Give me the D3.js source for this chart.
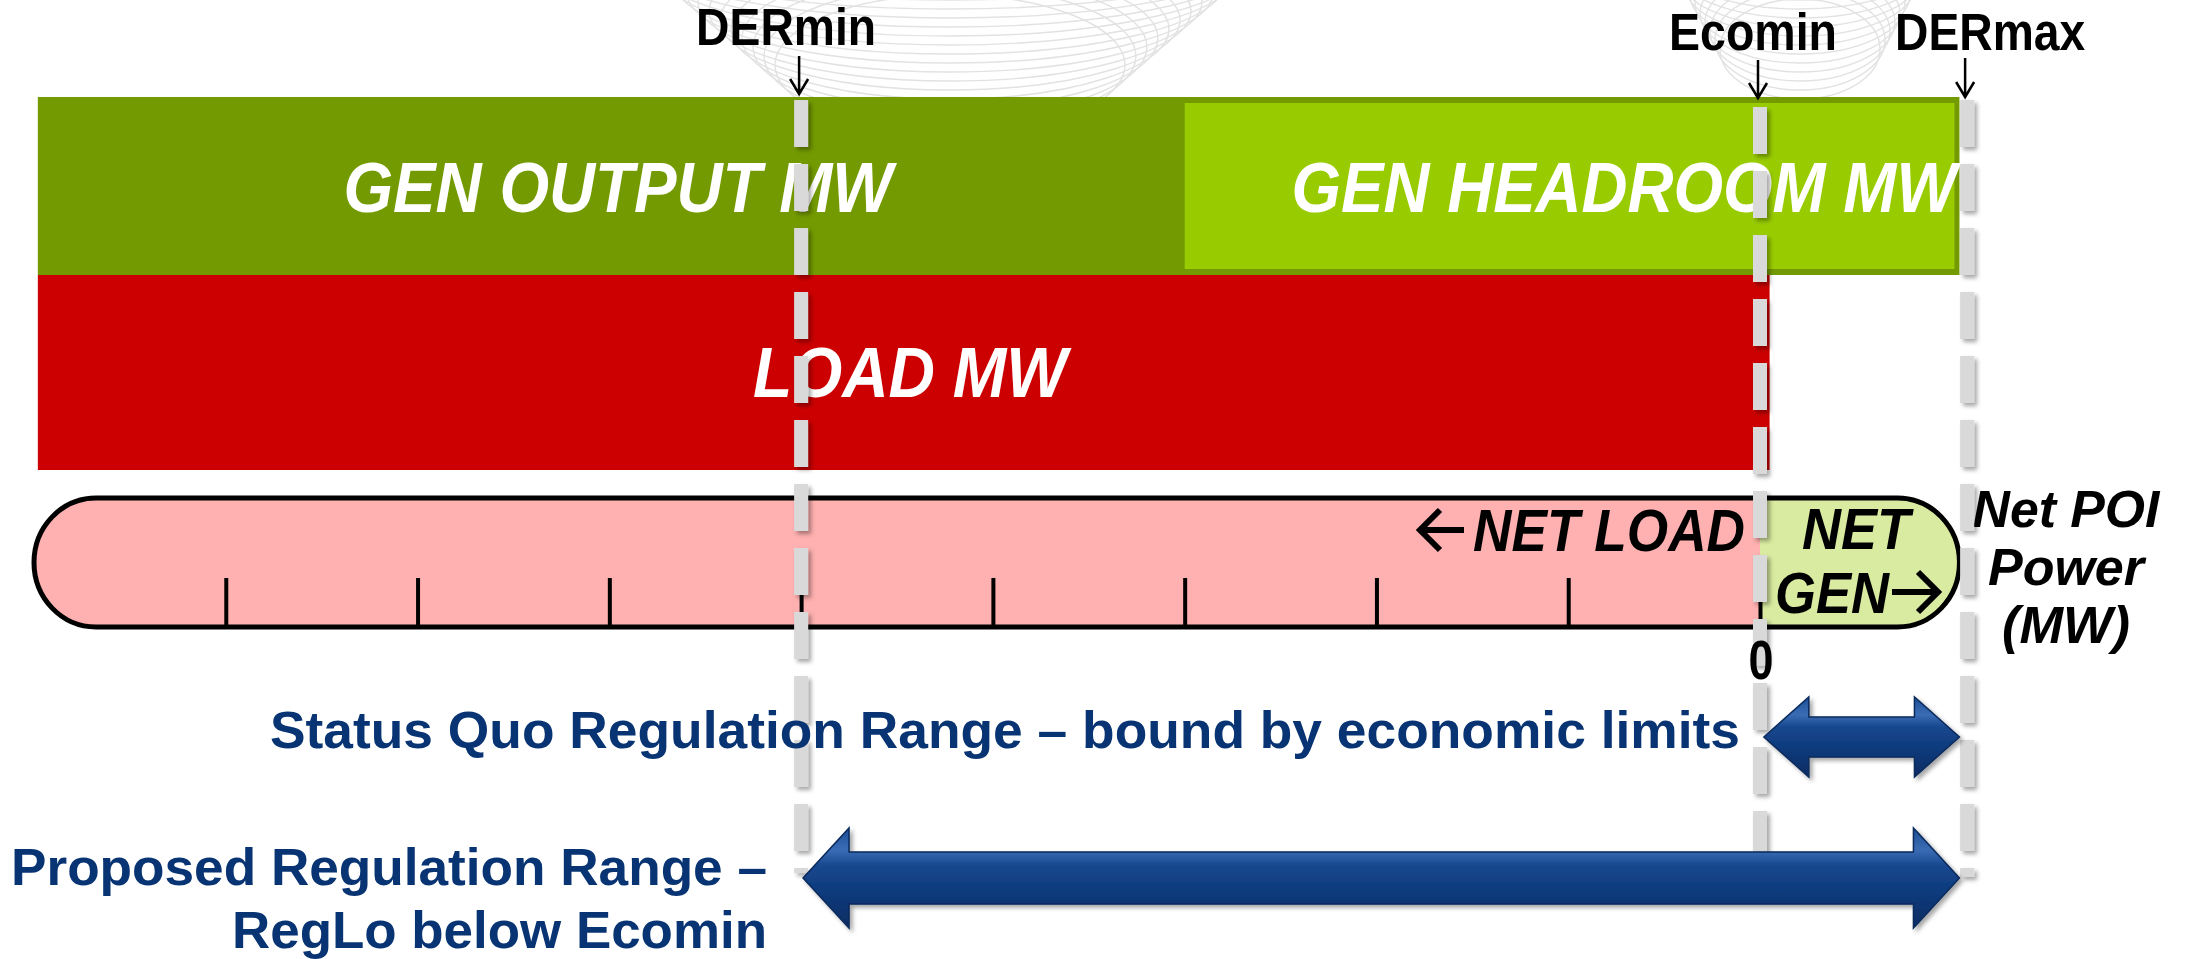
<!DOCTYPE html>
<html>
<head>
<meta charset="utf-8">
<script src="https://cdn.jsdelivr.net/npm/d3@7/dist/d3.min.js"></script>
<style>
body { margin: 0; background: #fff; }
svg text { font-family: "Liberation Sans", Arial, sans-serif; font-weight: bold; }
</style>
</head>
<body>
<div id="chart"></div>
<script>
// net POI power axis, in tick units (0 = zero net power)
var tickValues = [-8, -7, -6, -5, -4, -3, -2, -1, 0]
var tickLabels = ["", "", "", "", "", "", "", "", "0"]

// limits marked with the dashed lines
var limitNames = ["DERmin", "Ecomin", "DERmax"]
var limitValues = [-5, 0, 1.08]

// the two stacked bars (gen on top, load below)
var barNames = ["GEN OUTPUT MW", "GEN HEADROOM MW", "LOAD MW"]
var barStart = [-8.98, -3, -8.98]
var barEnd = [1.04, 1.04, 0.05]

// net power band
var netStart = [-9, 0]
var netEnd = [0, 1.04]

// regulation ranges
var rangeStart = [0.02, -4.99]
var rangeEnd = [1.04, 1.04]

var svgWidth = 2195
var svgHeight = 959

var svg = d3.select("#chart").append("svg")
  .attr("width", svgWidth)
  .attr("height", svgHeight)

var x = d3.scaleLinear()
  .domain([-9, 0])
  .range([34, 1760])

var defs = svg.append("defs")

// user space filter so the zero-width dash lines still render
var shadow = defs.append("filter").attr("id", "shadow")
  .attr("filterUnits", "userSpaceOnUse")
  .attr("x", 0).attr("y", 0).attr("width", svgWidth).attr("height", svgHeight)
shadow.append("feDropShadow")
  .attr("dx", 3).attr("dy", 3).attr("stdDeviation", 2)
  .attr("flood-color", "#000").attr("flood-opacity", 0.35)

var grad = defs.append("linearGradient").attr("id", "arrowFill")
  .attr("x1", 0).attr("y1", 0).attr("x2", 0).attr("y2", 1)
grad.append("stop").attr("offset", "0%").attr("stop-color", "#1d4f96")
grad.append("stop").attr("offset", "22%").attr("stop-color", "#3a6cb4")
grad.append("stop").attr("offset", "38%").attr("stop-color", "#17478e")
grad.append("stop").attr("offset", "70%").attr("stop-color", "#0c3878")
grad.append("stop").attr("offset", "100%").attr("stop-color", "#082c62")

// clip for the NET GEN side of the band
defs.append("clipPath").attr("id", "genClip")
  .append("rect")
  .attr("x", x(netStart[1]))
  .attr("y", 0)
  .attr("width", x(netEnd[1]) - x(netStart[1]) + 10)
  .attr("height", svgHeight)

// faint background swirl (decoration)
var swirl = svg.append("g").attr("fill", "none").attr("stroke", "#e2e2e2").attr("stroke-width", 1.4)
for (var i = 0; i < 16; i++) {
  swirl.append("ellipse")
    .attr("cx", 950).attr("cy", -70 + i * 9)
    .attr("rx", 340 - i * 11).attr("ry", 70)
  if (i < 12) {
    swirl.append("ellipse")
      .attr("cx", 1800).attr("cy", -50 + i * 9)
      .attr("rx", 135 - i * 5).attr("ry", 50)
  }
}

// bars
var bars = svg.append("g")
bars.append("rect")
  .attr("x", x(barStart[0])).attr("y", 97)
  .attr("width", x(barEnd[0]) - x(barStart[0])).attr("height", 178)
  .attr("fill", "#739a00")
bars.append("rect")
  .attr("x", x(barStart[1])).attr("y", 103)
  .attr("width", x(barEnd[1]) - x(barStart[1]) - 5).attr("height", 166)
  .attr("fill", "#99cc00")
bars.append("rect")
  .attr("x", x(barStart[2])).attr("y", 275)
  .attr("width", x(barEnd[2]) - x(barStart[2])).attr("height", 195)
  .attr("fill", "#cc0000")

var barLabelX = [618, 1624, 910]
var barLabelY = [212, 212, 397]
var barLabelW = [549, 665, 314]
bars.selectAll("text.bar").data(barNames).enter().append("text")
  .attr("class", "bar")
  .attr("x", function(d, i) { return barLabelX[i] })
  .attr("y", function(d, i) { return barLabelY[i] })
  .attr("text-anchor", "middle")
  .attr("font-size", 70)
  .attr("font-style", "italic")
  .attr("fill", "#fff")
  .attr("textLength", function(d, i) { return barLabelW[i] })
  .attr("lengthAdjust", "spacingAndGlyphs")
  .text(function(d) { return d })

// net power band (rounded ends)
function bandPath(x0, x1, y0, y1, rx) {
  var ry = (y1 - y0) / 2
  return "M" + (x0 + rx) + "," + y0 +
    " H" + (x1 - rx) +
    " A" + rx + "," + ry + " 0 0 1 " + (x1 - rx) + "," + y1 +
    " H" + (x0 + rx) +
    " A" + rx + "," + ry + " 0 0 1 " + (x0 + rx) + "," + y0 + " Z"
}
var band = bandPath(x(netStart[0]), x(netEnd[1]), 498, 627, 62)
var net = svg.append("g")
net.append("path").attr("d", band).attr("fill", "#ffb0b0")
net.append("path").attr("d", band).attr("fill", "#d9eba0").attr("clip-path", "url(#genClip)")
net.append("path").attr("d", band).attr("fill", "none").attr("stroke", "#000").attr("stroke-width", 5)

var axis = d3.axisTop(x).tickValues(tickValues).tickSize(47).tickFormat("")
var axisG = net.append("g").attr("transform", "translate(0,625)").call(axis)
axisG.select(".domain").remove()
axisG.selectAll(".tick line").attr("stroke", "#000").attr("stroke-width", 4)

net.append("text")
  .attr("x", 1745).attr("y", 551)
  .attr("text-anchor", "end")
  .attr("font-size", 60).attr("font-style", "italic")
  .attr("textLength", 272).attr("lengthAdjust", "spacingAndGlyphs")
  .text("NET LOAD")
net.append("text")
  .attr("x", 1856).attr("y", 549)
  .attr("text-anchor", "middle")
  .attr("font-size", 58).attr("font-style", "italic")
  .attr("textLength", 108).attr("lengthAdjust", "spacingAndGlyphs")
  .text("NET")
net.append("text")
  .attr("x", 1775).attr("y", 613)
  .attr("font-size", 58).attr("font-style", "italic")
  .attr("textLength", 114).attr("lengthAdjust", "spacingAndGlyphs")
  .text("GEN")
// the two direction arrows next to the band texts
net.append("path")
  .attr("d", "M1464,530 H1420 M1440,510 L1420,530 L1440,550" +
    " M1892,592 H1938 M1918,572 L1938,592 L1918,612")
  .attr("fill", "none")
  .attr("stroke", "#000")
  .attr("stroke-width", 6)

// axis title
var titleLines = ["Net POI", "Power", "(MW)"]
var titleY = [527, 585, 643]
var titleW = [187, 156, 128]
svg.selectAll("text.title").data(titleLines).enter().append("text")
  .attr("class", "title")
  .attr("x", 2066)
  .attr("y", function(d, i) { return titleY[i] })
  .attr("text-anchor", "middle")
  .attr("font-size", 52).attr("font-style", "italic")
  .attr("textLength", function(d, i) { return titleW[i] })
  .attr("lengthAdjust", "spacingAndGlyphs")
  .text(function(d) { return d })

// dashed limit lines
var dashTop = [100, 107, 100]
var dashBottom = [873, 858, 877]
svg.append("g").selectAll("line").data(limitValues).enter().append("line")
  .attr("x1", function(d) { return x(d) })
  .attr("x2", function(d) { return x(d) })
  .attr("y1", function(d, i) { return dashTop[i] })
  .attr("y2", function(d, i) { return dashBottom[i] })
  .attr("stroke", "#d9d9d9")
  .attr("stroke-width", 14)
  .attr("stroke-dasharray", "47 17")
  .attr("filter", "url(#shadow)")

// tick label
svg.selectAll("text.tick0").data(tickValues.filter(function(d, i) { return tickLabels[i] != "" }))
  .enter().append("text")
  .attr("class", "tick0")
  .attr("x", function(d) { return x(d) + 1 })
  .attr("y", 679)
  .attr("text-anchor", "middle")
  .attr("font-size", 55)
  .attr("textLength", 25).attr("lengthAdjust", "spacingAndGlyphs")
  .text(function(d) { return tickLabels[tickValues.indexOf(d)] })

// limit labels + small down arrows
var labelDx = [-15, -7, 23]
var labelY = [45, 50, 50]
var labelW = [180, 168, 190]
var arrowTop = [56, 60, 58]
var arrowBottom = [94, 98, 97]
var lim = svg.append("g")
lim.selectAll("text").data(limitNames).enter().append("text")
  .attr("x", function(d, i) { return x(limitValues[i]) + labelDx[i] })
  .attr("y", function(d, i) { return labelY[i] })
  .attr("text-anchor", "middle")
  .attr("font-size", 51)
  .attr("textLength", function(d, i) { return labelW[i] })
  .attr("lengthAdjust", "spacingAndGlyphs")
  .text(function(d) { return d })
lim.selectAll("path").data(limitValues).enter().append("path")
  .attr("d", function(d, i) {
    var px = x(d) - 2
    return "M" + px + "," + arrowTop[i] + " V" + arrowBottom[i] +
      " M" + (px - 9) + "," + (arrowBottom[i] - 15) + " L" + px + "," + arrowBottom[i] +
      " L" + (px + 9) + "," + (arrowBottom[i] - 15)
  })
  .attr("fill", "none")
  .attr("stroke", "#000")
  .attr("stroke-width", 2.5)

// regulation range arrows
function blockArrow(x0, x1, cy, headHalf, shaftHalf, headLen) {
  return "M" + x0 + "," + cy +
    " L" + (x0 + headLen) + "," + (cy - headHalf) +
    " L" + (x0 + headLen) + "," + (cy - shaftHalf) +
    " L" + (x1 - headLen) + "," + (cy - shaftHalf) +
    " L" + (x1 - headLen) + "," + (cy - headHalf) +
    " L" + x1 + "," + cy +
    " L" + (x1 - headLen) + "," + (cy + headHalf) +
    " L" + (x1 - headLen) + "," + (cy + shaftHalf) +
    " L" + (x0 + headLen) + "," + (cy + shaftHalf) +
    " L" + (x0 + headLen) + "," + (cy + headHalf) + " Z"
}
var arrowY = [737, 878]
var arrowHead = [40, 50]
var arrowShaft = [20, 26]
var arrowLen = [45, 46]
svg.append("g").selectAll("path").data(rangeStart).enter().append("path")
  .attr("d", function(d, i) {
    return blockArrow(x(d), x(rangeEnd[i]), arrowY[i], arrowHead[i], arrowShaft[i], arrowLen[i])
  })
  .attr("fill", "url(#arrowFill)")
  .attr("stroke", "#082a5c")
  .attr("stroke-width", 1.5)
  .attr("filter", "url(#shadow)")

var rangeText = svg.append("g").attr("fill", "#083473").attr("font-size", 52).attr("text-anchor", "end")
rangeText.append("text")
  .attr("x", 1740).attr("y", 748)
  .attr("textLength", 1470).attr("lengthAdjust", "spacingAndGlyphs")
  .text("Status Quo Regulation Range \u2013 bound by economic limits")
rangeText.append("text")
  .attr("x", 767).attr("y", 885)
  .attr("textLength", 756).attr("lengthAdjust", "spacingAndGlyphs")
  .text("Proposed Regulation Range \u2013")
rangeText.append("text")
  .attr("x", 767).attr("y", 948)
  .attr("textLength", 535).attr("lengthAdjust", "spacingAndGlyphs")
  .text("RegLo below Ecomin")
</script>
</body>
</html>
